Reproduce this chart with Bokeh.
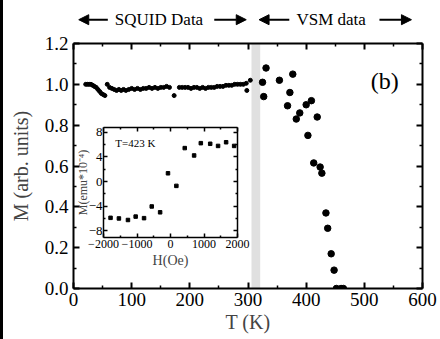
from bokeh.plotting import figure
from bokeh.models import (LinearAxis, Range1d, BoxAnnotation, Label, Arrow, NormalHead,
                          Div, FixedTicker, PrintfTickFormatter)
from bokeh.layouts import row, column
from bokeh.embed import file_html
from bokeh.resources import INLINE

FONT = "Liberation Serif"

# ---------------- data ----------------
squid_T = [21, 24, 27, 30, 33, 36, 39, 42, 45, 48, 51, 54, 58, 62, 66, 70, 74, 78, 82, 86,
           90, 95, 100, 105, 110, 115, 120, 125, 130, 135, 140, 145, 150, 155, 160, 165,
           173, 182, 187, 192, 197, 202, 207, 212, 217, 222, 227, 232, 237, 242, 247, 252,
           257, 262, 267, 272, 277, 282, 287, 292, 297, 298, 304]
squid_M = [1.00, 1.00, 1.00, 1.00, 0.995, 0.99, 0.985, 0.975, 0.965, 0.955, 0.95, 0.945,
           1.00, 0.985, 0.98, 0.975, 0.97, 0.975, 0.97, 0.975, 0.97, 0.975, 0.98, 0.975,
           0.98, 0.975, 0.98, 0.98, 0.985, 0.98, 0.985, 0.98, 0.985, 0.985, 0.99, 0.985,
           0.945, 0.985, 0.985, 0.985, 0.985, 0.98, 0.985, 0.985, 0.98, 0.985, 0.98, 0.985,
           0.985, 0.985, 0.99, 0.99, 0.99, 0.995, 0.995, 0.995, 1.00, 1.00, 1.00, 1.00,
           1.005, 0.97, 1.02]

vsm_T = [325, 327, 331, 354, 368, 372, 377, 383, 389, 400, 403, 409, 413, 419, 424, 427,
         434, 437, 443, 448, 452, 460, 464]
vsm_M = [1.01, 0.94, 1.08, 1.02, 0.895, 0.96, 1.05, 0.83, 0.86, 0.90, 0.75, 0.92, 0.615,
         0.84, 0.595, 0.565, 0.37, 0.295, 0.17, 0.09, 0.0, 0.0, 0.0]

inset_H = [-1790, -1540, -1270, -1040, -790, -560, -310, -75, 175, 425, 705, 905, 1185,
           1420, 1660, 1900]
inset_M = [-5.9, -6.0, -6.25, -5.7, -5.95, -4.05, -5.0, 1.35, -0.7, 5.45, 4.25, 6.25, 6.15,
           5.8, 6.4, 5.8]

x_ticks = [0, 100, 200, 300, 400, 500, 600]
y_ticks = [0.0, 0.2, 0.4, 0.6, 0.8, 1.0, 1.2]
inset_x_ticks = [-2000, -1000, 0, 1000, 2000]
inset_y_ticks = [-8, -4, 0, 4, 8]

squid_band = (306, 321)

x_minor = [(a + b) / 2 for a, b in zip(x_ticks[:-1], x_ticks[1:])]
y_minor = [(a + b) / 2 for a, b in zip(y_ticks[:-1], y_ticks[1:])]
ix_minor = [(a + b) / 2 for a, b in zip(inset_x_ticks[:-1], inset_x_ticks[1:])]
iy_minor = [(a + b) / 2 for a, b in zip(inset_y_ticks[:-1], inset_y_ticks[1:])]


def bare(fig):
    fig.xaxis.visible = False
    fig.yaxis.visible = False
    fig.grid.visible = False
    fig.outline_line_color = None


def style_axis(ax, ticks, minor, show_labels, fmt=None, fs="19px", lw=2):
    ax.ticker = FixedTicker(ticks=ticks, minor_ticks=minor)
    ax.axis_line_width = lw
    ax.axis_line_color = "black"
    ax.major_tick_in = 6
    ax.major_tick_out = 0
    ax.minor_tick_in = 3
    ax.minor_tick_out = 0
    ax.major_tick_line_width = lw
    ax.minor_tick_line_width = 1.5
    ax.major_label_text_font = FONT
    ax.major_label_text_color = "black"
    if show_labels:
        ax.major_label_text_font_size = fs
    else:
        ax.major_label_text_font_size = "0px"
        ax.major_label_standoff = 0
    if fmt is not None:
        ax.formatter = fmt


# ---------------- header strip ----------------
header = figure(width=437, height=30, x_range=Range1d(0, 600), y_range=Range1d(0, 1),
                title=None, output_backend="svg", toolbar_location=None,
                min_border_left=70, min_border_right=18, min_border_top=0, min_border_bottom=0)
bare(header)
header.border_fill_color = "white"
header.background_fill_color = "white"
for txt, xc in [("SQUID Data", 147), ("VSM data", 443)]:
    header.add_layout(Label(x=xc, y=0.36, text=txt, text_font=FONT, text_font_size="17px",
                            text_align="center", text_baseline="middle", text_color="black"))
for xs, xe in [(59, 9), (242, 297), (371, 319), (526, 581)]:
    header.add_layout(Arrow(x_start=xs, y_start=0.36, x_end=xe, y_end=0.36, line_width=2,
                            line_color="black",
                            end=NormalHead(size=10, fill_color="black", line_color="black")))

# ---------------- main figure ----------------
p = figure(width=437, height=309, x_range=Range1d(0, 600), y_range=Range1d(0, 1.2),
           title=None, output_backend="svg", toolbar_location=None,
           min_border_left=70, min_border_right=18, min_border_top=13, min_border_bottom=51)
bare(p)
p.background_fill_color = "white"
p.border_fill_color = "white"

bottom = LinearAxis(axis_label="T (K)")
style_axis(bottom, x_ticks, x_minor, True)
bottom.major_label_standoff = 4
bottom.axis_label_standoff = 2
bottom.axis_label_text_font = FONT
bottom.axis_label_text_font_style = "normal"
bottom.axis_label_text_font_size = "20px"
p.add_layout(bottom, "below")

left = LinearAxis(axis_label="M (arb. units)")
style_axis(left, y_ticks, y_minor, True, PrintfTickFormatter(format="%.1f"))
left.major_label_standoff = 5
left.axis_label_standoff = 10
left.axis_label_text_font = FONT
left.axis_label_text_font_style = "normal"
left.axis_label_text_font_size = "20px"
p.add_layout(left, "left")

top = LinearAxis()
style_axis(top, x_ticks, x_minor, False)
p.add_layout(top, "above")

right = LinearAxis()
style_axis(right, y_ticks, y_minor, False)
p.add_layout(right, "right")

p.add_layout(BoxAnnotation(left=squid_band[0], right=squid_band[1], fill_color="#e0e0e0",
                           fill_alpha=1.0, line_color=None, level="underlay"))

p.scatter(squid_T, squid_M, marker="circle", size=4, color="black")
p.scatter(vsm_T, vsm_M, marker="circle", size=6.5, color="black")

p.add_layout(Label(x=535, y=1.015, text="(b)", text_font=FONT, text_font_size="24px",
                   text_align="center", text_baseline="middle", text_color="black"))

# ---------------- inset figure ----------------
ins = figure(width=188, height=157, x_range=Range1d(-2000, 2000), y_range=Range1d(-9.1, 8.8),
             title=None, output_backend="svg", toolbar_location=None,
             min_border_left=40, min_border_right=14, min_border_top=3, min_border_bottom=44)
bare(ins)
ins.background_fill_color = "white"
ins.border_fill_color = None
ins.styles = {"position": "absolute", "left": "63px", "top": "124px"}

ib = LinearAxis(axis_label="H(Oe)")
style_axis(ib, inset_x_ticks, ix_minor, True, fs="12px", lw=1.5)
ib.major_tick_in = 4
ib.minor_tick_in = 2
ib.major_label_standoff = 2
ib.axis_label_standoff = 2
ib.axis_label_text_font = FONT
ib.axis_label_text_font_style = "normal"
ib.axis_label_text_font_size = "14px"
ins.add_layout(ib, "below")

il = LinearAxis(axis_label="M(emu*10⁻⁴)")
style_axis(il, inset_y_ticks, iy_minor, True, fs="13px", lw=1.5)
il.major_tick_in = 4
il.minor_tick_in = 2
il.major_label_standoff = 1
il.axis_label_standoff = -4
il.axis_label_text_font = FONT
il.axis_label_text_font_style = "normal"
il.axis_label_text_font_size = "12px"
ins.add_layout(il, "left")

it = LinearAxis()
style_axis(it, inset_x_ticks, ix_minor, False, lw=1.5)
it.major_tick_in = 4
it.minor_tick_in = 2
ins.add_layout(it, "above")

ir = LinearAxis()
style_axis(ir, inset_y_ticks, iy_minor, False, lw=1.5)
ir.major_tick_in = 4
ir.minor_tick_in = 2
ins.add_layout(ir, "right")

ins.scatter(inset_H, inset_M, marker="square", size=3.5, color="black")
ins.add_layout(Label(x=-1650, y=6.3, text="T=423 K", text_font=FONT, text_font_size="11px",
                     text_align="left", text_baseline="middle", text_color="black"))

bar = Div(width=3, height=339, margin=0, styles={"background-color": "black"})
root = row(bar, column(header, p, spacing=0, margin=0), ins, spacing=0, margin=0,
           styles={"position": "relative"})

open("out.html", "w").write(file_html(root, INLINE))
